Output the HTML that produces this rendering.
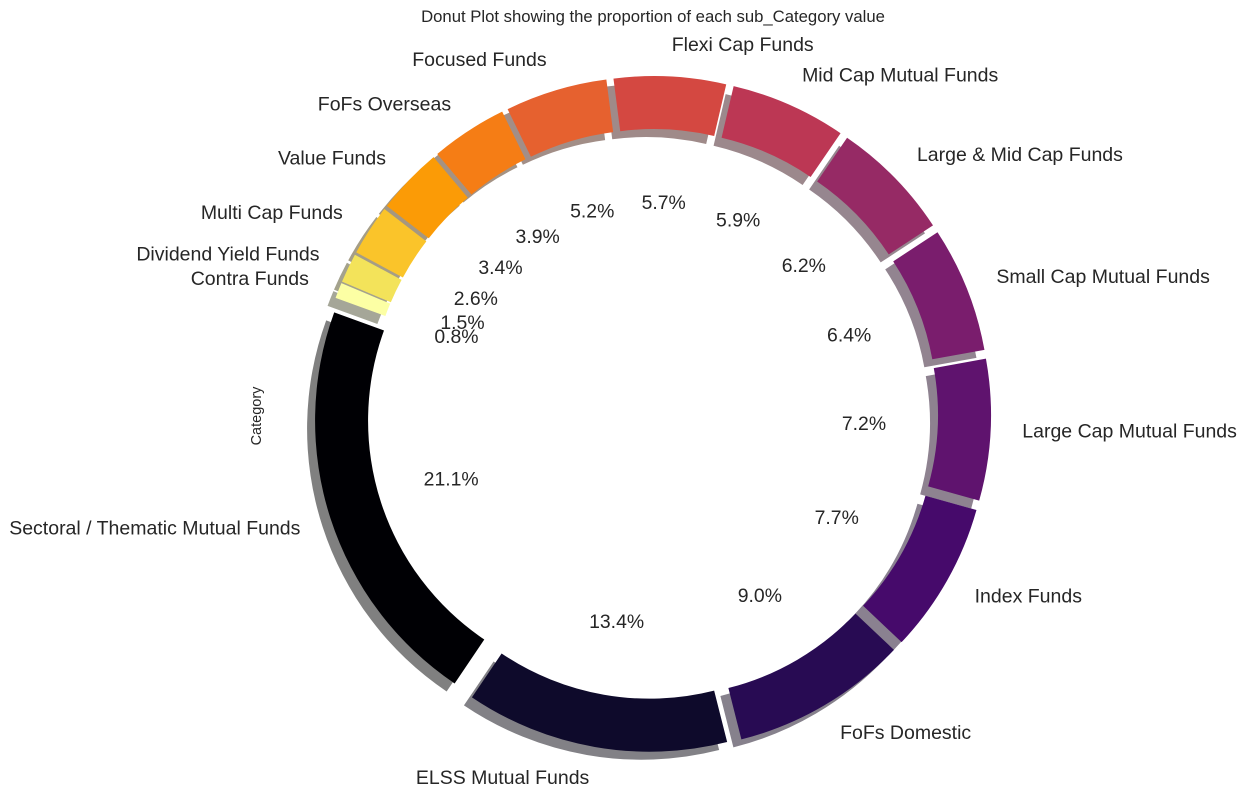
<!DOCTYPE html>
<html><head><meta charset="utf-8"><style>
html,body{margin:0;padding:0;background:#fff;}
svg{display:block;font-family:"Liberation Sans","DejaVu Sans",sans-serif;}
</style></head><body>
<svg id="chart" width="1248" height="810" viewBox="0 0 1248 810">
<text x="653" y="22" text-anchor="middle" font-size="16.7" fill="#262626">Donut Plot showing the proportion of each sub_Category value</text>
<text x="0" y="0" transform="translate(261,416) rotate(-90)" text-anchor="middle" font-size="14.5" fill="#262626">Category</text>
<g id="shadows"></g><g id="wedges"></g><g id="labels"></g>
</svg>
<script>
const categories = ["Sectoral / Thematic Mutual Funds","ELSS Mutual Funds","FoFs Domestic","Index Funds","Large Cap Mutual Funds","Small Cap Mutual Funds","Large & Mid Cap Funds","Mid Cap Mutual Funds","Flexi Cap Funds","Focused Funds","FoFs Overseas","Value Funds","Multi Cap Funds","Dividend Yield Funds","Contra Funds"];
const values = [21.1,13.4,9.0,7.7,7.2,6.4,6.2,5.9,5.7,5.2,3.9,3.4,2.6,1.5,0.8];
const explodes = [22,21,21,21,21,21,21,21,21,21,21,21,21,21,21];
const colors = ["#000004","#0e0a2b","#280b53","#460a6b","#5f136e","#7a1d6d","#962a65","#bc3754","#d44841","#e6612f","#f57d15","#fb9b06","#fac42a","#f3e35a","#fcffa4"];
const cx=653, cy=414, R=317, Rin=264, startAngle=160, labelDist=1.1, pctDist=0.6;
const NS="http://www.w3.org/2000/svg";
const total=values.reduce((a,b)=>a+b,0);
function pt(r,deg,ox,oy){const a=deg*Math.PI/180;return [ox+r*Math.cos(a), oy-r*Math.sin(a)];}
function arcPath(ox,oy,a0,a1){
  const large=(a1-a0)>180?1:0;
  const p0=pt(R,a0,ox,oy),p1=pt(R,a1,ox,oy),q1=pt(Rin,a1,ox,oy),q0=pt(Rin,a0,ox,oy);
  return `M${p0[0]},${p0[1]} A${R},${R} 0 ${large} 0 ${p1[0]},${p1[1]} L${q1[0]},${q1[1]} A${Rin},${Rin} 0 ${large} 1 ${q0[0]},${q0[1]} Z`;
}
function shade(hex){const n=parseInt(hex.slice(1),16);const r=(n>>16)&255,g=(n>>8)&255,b=n&255;
  const f=c=>Math.round(255*0.5+c*0.3*0.5);return `rgb(${f(r)},${f(g)},${f(b)})`;}
const sh=document.getElementById('shadows'),wg=document.getElementById('wedges'),lb=document.getElementById('labels');
let ang=startAngle;
values.forEach((v,i)=>{
  const span=v/total*360, a0=ang, a1=ang+span, mid=(a0+a1)/2;
  const e=pt(explodes[i],mid,cx,cy);
  const s=document.createElementNS(NS,'path');
  s.setAttribute('d',arcPath(e[0]-8,e[1]+8,a0,a1));
  s.setAttribute('fill',shade(colors[i]));
  
  
  sh.appendChild(s);
  const w=document.createElementNS(NS,'path');
  w.setAttribute('d',arcPath(e[0],e[1],a0,a1));
  w.setAttribute('fill',colors[i]);
  
  
  wg.appendChild(w);
  const lp=pt(R*labelDist,mid,e[0],e[1]);
  const t=document.createElementNS(NS,'text');
  t.setAttribute('x',lp[0]);t.setAttribute('y',lp[1]+6);
  t.setAttribute('text-anchor',Math.cos(mid*Math.PI/180)>0?'start':'end');
  t.setAttribute('font-size','19.5');t.setAttribute('fill','#262626');
  t.textContent=categories[i];
  
  
  lb.appendChild(t);
  const pp=pt(R*pctDist,mid,e[0],e[1]);
  const p=document.createElementNS(NS,'text');
  p.setAttribute('x',pp[0]);p.setAttribute('y',pp[1]+6);
  p.setAttribute('text-anchor','middle');p.setAttribute('font-size','19.4');p.setAttribute('fill','#262626');
  p.textContent=v.toFixed(1)+'%';
  
  
  lb.appendChild(p);
  ang=a1;
});
</script>
</body></html>
